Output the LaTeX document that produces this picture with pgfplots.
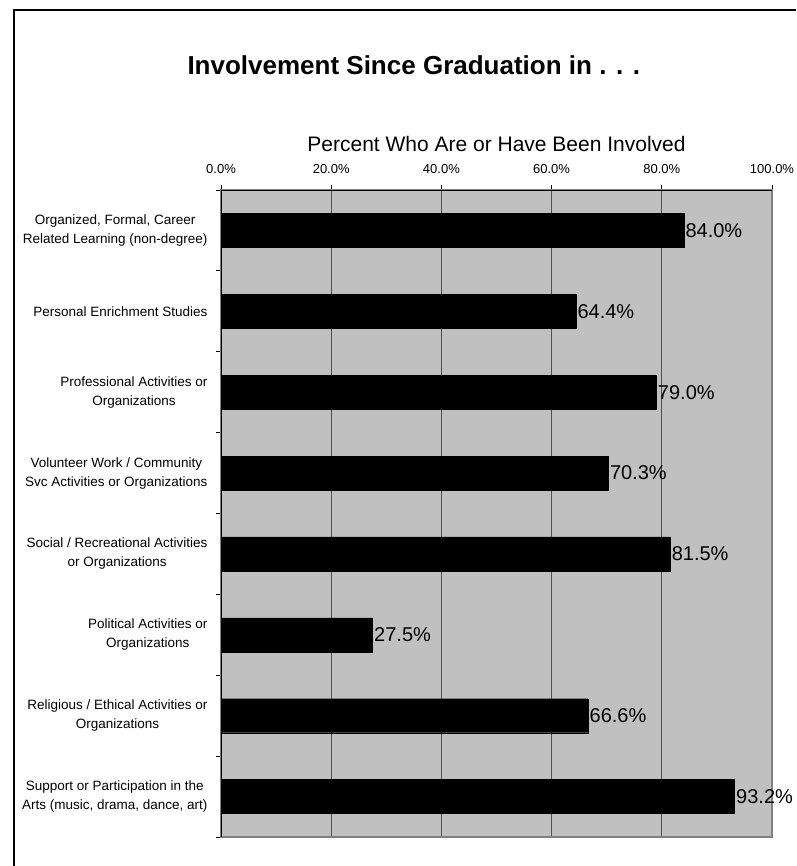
\documentclass[border=0pt]{standalone}
\usepackage{fontspec}
\setmainfont{Liberation Sans}
\usepackage{pgfplots}
\pgfplotsset{compat=1.18}

\definecolor{plotbg}{HTML}{C0C0C0}
\definecolor{gridc}{HTML}{505050}
\definecolor{borderc}{HTML}{808080}

% involvement since graduation, percent
\pgfplotstableread{
pos pct
1 84.0
2 64.4
3 79.0
4 70.3
5 81.5
6 27.5
7 66.6
8 93.2
}\involved

\begin{document}
\begin{tikzpicture}
\path[use as bounding box] (0pt,0pt) rectangle (796pt,-866pt);
\draw[line width=1.5pt] (14pt,-866pt) -- (14pt,-10pt) -- (796pt,-10pt);
\begin{axis}[
    at={(221pt,-837pt)}, anchor=south west,
    scale only axis,
    width=551pt, height=647pt,
    xbar, bar width=34pt,
    xmin=0, xmax=100,
    ymin=0.5, ymax=8.5, y dir=reverse,
    /pgf/number format/assume math mode=true,
    axis background/.style={fill=plotbg},
    axis line style={draw=borderc, line width=1.5pt},
    xmajorgrids, major grid style={draw=gridc, line width=0.8pt},
    xtick={0,20,...,100},
    xticklabel={\pgfmathprintnumber[fixed,fixed zerofill,precision=1]{\tick}\%},
    xtick pos=upper, xticklabel pos=upper,
    tick align=outside,
    major tick length=5pt,
    tick style={black, line width=0.8pt},
    xticklabel style={font=\fontsize{13}{15}\selectfont, anchor=base, yshift=12pt},
    xlabel={Percent Who Are or Have Been Involved},
    xlabel style={font=\fontsize{21}{24}\selectfont, at={(0.5,1)}, anchor=base, yshift=39pt},
    title={\bfseries Involvement Since Graduation in . . .},
    title style={font=\fontsize{26}{30}\selectfont, at={(0.35,1)}, anchor=base, yshift=110pt},
    ytick={1,...,8},
    ytick pos=left,
    every major y tick/.style={draw=none},
    minor ytick={0.5,1.5,...,8.5},
    minor tick length=5pt,
    every minor y tick/.style={black, line width=0.8pt},
    yticklabels={
        {Organized, Formal, Career\\Related Learning (non-degree)},
        {Personal Enrichment Studies},
        {Professional Activities or\\Organizations},
        {Volunteer Work / Community\\Svc Activities or Organizations},
        {Social / Recreational Activities\\or Organizations},
        {Political Activities or\\Organizations},
        {Religious / Ethical Activities or\\Organizations},
        {Support or Participation in the\\Arts (music, drama, dance, art)}},
    yticklabel style={font=\fontsize{13.5}{19}\selectfont, align=center, anchor=east, xshift=-5pt},
    nodes near coords={\pgfmathprintnumber[fixed,fixed zerofill,precision=1]{\pgfplotspointmeta}\%},
    every node near coord/.append style={font=\fontsize{20}{22}\selectfont, anchor=west, inner sep=1pt, xshift=0.5pt, black},
]
\addplot[fill=black, draw=black] table[x=pct, y=pos] {\involved};
\draw[black, line width=1.2pt] (rel axis cs:0,0) -- (rel axis cs:0,1) -- (rel axis cs:1,1);
\end{axis}
\end{tikzpicture}
\end{document}
